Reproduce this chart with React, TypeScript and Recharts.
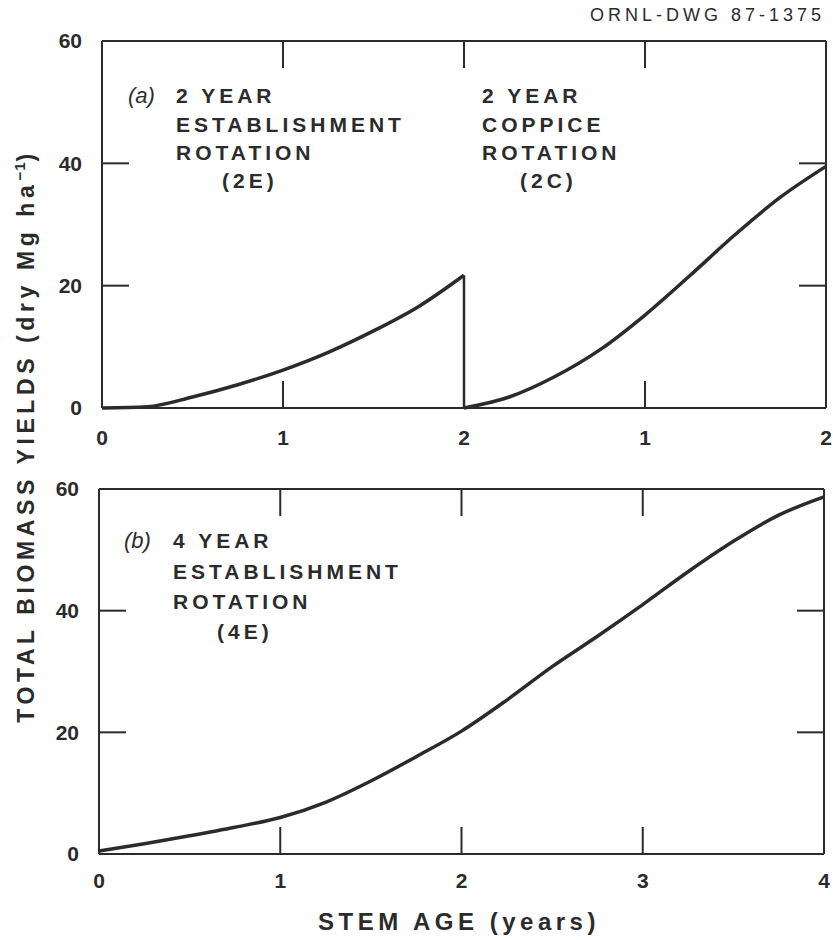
import { Line, LineChart, XAxis, YAxis } from 'recharts';

// stem age (years) and total biomass (dry Mg/ha)
const est2Age = [0, 0.25, 0.5, 0.75, 1, 1.25, 1.5, 1.75, 2];
const est2Yield = [0, 0.2, 1.8, 3.8, 6.2, 9.1, 12.6, 16.6, 21.7];

// coppice regrowth after the 2-year establishment harvest
const cop2Age = [0, 0.25, 0.5, 0.75, 1, 1.25, 1.5, 1.75, 2];
const cop2Yield = [0, 1.8, 5.1, 9.5, 15.2, 21.7, 28.4, 34.5, 39.5];

const est4Age = [0, 0.25, 0.5, 0.75, 1, 1.25, 1.5, 1.75, 2, 2.25, 2.5, 2.75, 3, 3.25, 3.5, 3.75, 4];
const est4Yield = [0.5, 1.7, 3, 4.4, 6, 8.5, 12, 16, 20.2, 25.3, 30.8, 35.8, 41, 46.4, 51.4, 55.7, 58.7];

const yTicks = [0, 20, 40, 60];
const xTicks = [0, 1, 2, 3, 4];
const innerX = [1, 2, 3];
const innerY = [20, 40];

const ROTATION = 2; // coppice curve starts where the first rotation ends

const est2Data = est2Age.map((x, i) => ({ x, y: est2Yield[i] }));
const cop2Data = cop2Age.map((a, i) => ({ x: a + ROTATION, y: cop2Yield[i] }));
const harvestData = [
  { x: ROTATION, y: est2Yield[est2Yield.length - 1] },
  { x: ROTATION, y: cop2Yield[0] },
];
const est4Data = est4Age.map((x, i) => ({ x, y: est4Yield[i] }));

const INK = '#2b2b2b';
const SANS = '"Liberation Sans", Arial, sans-serif';
const tickFont = { fontFamily: SANS, fontSize: 21, fontWeight: 700, fill: INK };
const frame = { stroke: INK, strokeWidth: 2 };
const noLabel = () => <g />;

const headStyle = {
  fontFamily: SANS,
  fontSize: 21,
  fontWeight: 700,
  letterSpacing: 4,
  fill: INK,
};
const tagStyle = { fontFamily: SANS, fontSize: 22, fontStyle: 'italic' as const, fill: INK };

// inward tick marks on all four sides plus the top/right border
function frameAxes(ghostData: { x: number; y: number }[]) {
  return [
    <XAxis key="bin" xAxisId="bin" type="number" dataKey="x" domain={[0, 4]} ticks={innerX} orientation="bottom" mirror tick={noLabel} axisLine={false} tickSize={27} tickLine={frame} />,
    <XAxis key="tin" xAxisId="tin" type="number" dataKey="x" domain={[0, 4]} ticks={innerX} orientation="top" mirror tick={noLabel} axisLine={frame} tickSize={27} tickLine={frame} />,
    <YAxis key="lin" yAxisId="lin" type="number" domain={[0, 60]} ticks={innerY} orientation="left" mirror tick={noLabel} axisLine={false} tickSize={27} tickLine={frame} />,
    <YAxis key="rin" yAxisId="rin" type="number" domain={[0, 60]} ticks={innerY} orientation="right" mirror tick={noLabel} axisLine={frame} tickSize={27} tickLine={frame} />,
    <Line key="g1" data={ghostData} xAxisId="bin" yAxisId="lin" dataKey="y" stroke="none" dot={false} activeDot={false} legendType="none" isAnimationActive={false} />,
    <Line key="g2" data={ghostData} xAxisId="tin" yAxisId="rin" dataKey="y" stroke="none" dot={false} activeDot={false} legendType="none" isAnimationActive={false} />,
  ];
}

export default function App() {
  return (
    <div style={{ position: 'absolute', left: 0, top: 0, width: 833, height: 940, background: '#fff' }}>
      <div style={{ position: 'absolute', left: 0, top: 0 }}>
        <LineChart width={833} height={460} margin={{ top: 41, right: 7, bottom: 22, left: 42 }}>
          <XAxis
            type="number"
            dataKey="x"
            domain={[0, 4]}
            ticks={xTicks}
            tickFormatter={(v: number) => String(v <= ROTATION ? v : v - ROTATION)}
            tickLine={false}
            tickSize={0}
            tickMargin={22}
            axisLine={frame}
            height={30}
            tick={tickFont}
          />
          <YAxis
            type="number"
            domain={[0, 60]}
            ticks={yTicks}
            tickLine={false}
            tickSize={0}
            tickMargin={20}
            axisLine={frame}
            width={60}
            tick={tickFont}
          />
          {frameAxes(est4Data)}
          <Line data={est2Data} dataKey="y" type="monotone" stroke={INK} strokeWidth={3.5} dot={false} activeDot={false} isAnimationActive={false} />
          <Line data={harvestData} dataKey="y" type="linear" stroke={INK} strokeWidth={2.5} dot={false} activeDot={false} isAnimationActive={false} />
          <Line data={cop2Data} dataKey="y" type="monotone" stroke={INK} strokeWidth={3.5} dot={false} activeDot={false} isAnimationActive={false} />
        </LineChart>
      </div>

      <div style={{ position: 'absolute', left: 0, top: 460 }}>
        <LineChart width={833} height={480} margin={{ top: 29, right: 9, bottom: 16, left: 39 }}>
          <XAxis
            type="number"
            dataKey="x"
            domain={[0, 4]}
            ticks={xTicks}
            tickLine={false}
            tickSize={0}
            tickMargin={19}
            axisLine={frame}
            height={70}
            tick={tickFont}
          />
          <YAxis
            type="number"
            domain={[0, 60]}
            ticks={yTicks}
            tickLine={false}
            tickSize={0}
            tickMargin={20}
            axisLine={frame}
            width={60}
            tick={tickFont}
          />
          {frameAxes(est4Data)}
          <Line data={est4Data} dataKey="y" type="monotone" stroke={INK} strokeWidth={3.5} dot={false} activeDot={false} isAnimationActive={false} />
        </LineChart>
      </div>

      <svg width={833} height={940} style={{ position: 'absolute', left: 0, top: 0, pointerEvents: 'none' }}>
        <text x={825} y={21} textAnchor="end" style={{ fontFamily: SANS, fontSize: 18, letterSpacing: 4, fill: INK }}>
          ORNL-DWG 87-1375
        </text>

        <text x={128} y={103} style={tagStyle}>(a)</text>
        <text style={headStyle}>
          <tspan x={176} y={103}>2 YEAR</tspan>
          <tspan x={176} y={132}>ESTABLISHMENT</tspan>
          <tspan x={176} y={160}>ROTATION</tspan>
          <tspan x={222} y={188}>(2E)</tspan>
        </text>
        <text style={headStyle}>
          <tspan x={482} y={103}>2 YEAR</tspan>
          <tspan x={482} y={132}>COPPICE</tspan>
          <tspan x={482} y={160}>ROTATION</tspan>
          <tspan x={520} y={188}>(2C)</tspan>
        </text>

        <text x={124} y={548} style={tagStyle}>(b)</text>
        <text style={headStyle}>
          <tspan x={173} y={548}>4 YEAR</tspan>
          <tspan x={173} y={579}>ESTABLISHMENT</tspan>
          <tspan x={173} y={609}>ROTATION</tspan>
          <tspan x={217} y={639}>(4E)</tspan>
        </text>

        <text
          transform="translate(34, 436) rotate(-90)"
          textAnchor="middle"
          style={{ fontFamily: SANS, fontSize: 23, fontWeight: 700, letterSpacing: 4.6, fill: INK }}
        >
          TOTAL BIOMASS YIELDS (dry Mg ha
          <tspan dy={-9} style={{ fontSize: 15, letterSpacing: 1 }}>−1</tspan>
          <tspan dy={9}>)</tspan>
        </text>

        <text
          x={459}
          y={930}
          textAnchor="middle"
          style={{ fontFamily: SANS, fontSize: 24, fontWeight: 700, letterSpacing: 4.5, fill: INK }}
        >
          STEM AGE (years)
        </text>
      </svg>
    </div>
  );
}
